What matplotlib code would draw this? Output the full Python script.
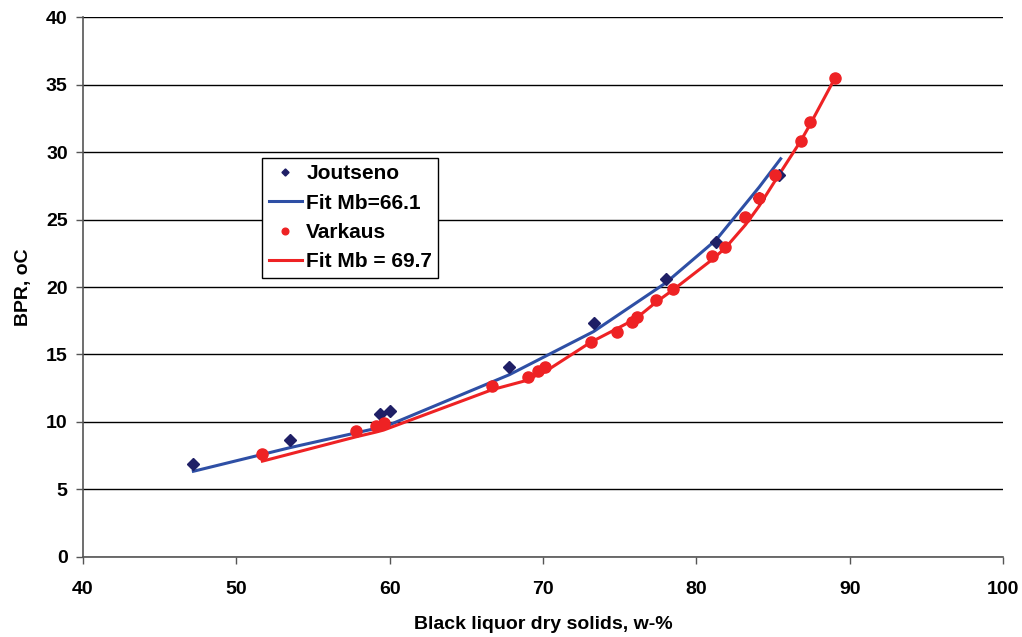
import matplotlib.pyplot as plt

# Joutseno measurements and fit
jout_x = [47.2, 53.5, 59.4, 60.0, 67.8, 73.3, 78.0, 81.3, 84.1, 85.4]
jout_y = [6.9, 8.7, 10.6, 10.8, 14.1, 17.3, 20.6, 23.3, 26.6, 28.3]
jout_fit_x = [47.2, 53.5, 59.4, 60.0, 67.8, 73.3, 78.0, 81.3, 84.1, 85.5]
jout_fit_y = [6.35, 8.1, 9.6, 9.8, 13.5, 16.7, 20.3, 23.5, 27.4, 29.5]

# Varkaus measurements and fit
vark_x = [51.7, 57.8, 59.1, 59.6, 66.7, 69.0, 69.7, 70.1, 73.1, 74.8, 75.8, 76.1,
          77.4, 78.5, 81.0, 81.9, 83.2, 84.1, 85.1, 86.8, 87.4, 89.05]
vark_y = [7.6, 9.3, 9.7, 9.9, 12.7, 13.3, 13.8, 14.1, 15.9, 16.7, 17.4, 17.8,
          19.0, 19.85, 22.3, 23.0, 25.2, 26.6, 28.3, 30.8, 32.2, 35.5]
vark_fit_x = [51.7, 57.8, 59.1, 59.6, 66.7, 69.0, 69.7, 70.1, 73.1, 74.8, 75.8, 76.1,
              77.4, 78.5, 81.0, 81.9, 83.2, 84.1, 85.1, 86.8, 87.4, 89.1]
vark_fit_y = [7.1, 8.9, 9.25, 9.4, 12.4, 13.1, 13.55, 13.7, 15.9, 16.9, 17.5, 17.7,
              18.9, 19.8, 22.0, 22.9, 24.6, 26.0, 27.8, 30.8, 32.0, 35.6]

plt.rcParams['font.family'] = ['Liberation Sans', 'DejaVu Sans']
plt.rcParams['font.weight'] = 'bold'

fig = plt.figure(figsize=(10.22, 6.37), dpi=100)
ax = fig.add_axes([0.0812, 0.1256, 0.9002, 0.8477])

ax.plot(jout_x, jout_y, linestyle='none', marker='D', markersize=6,
        color='#1f1f66', label='Joutseno', zorder=3)
ax.plot(jout_fit_x, jout_fit_y, color='#2e4fa5', linewidth=2.2,
        label='Fit Mb=66.1', zorder=2)
ax.plot(vark_x, vark_y, linestyle='none', marker='o', markersize=8,
        color='#ee2224', label='Varkaus', zorder=3)
ax.plot(vark_fit_x, vark_fit_y, color='#ee2224', linewidth=2.2,
        label='Fit Mb = 69.7', zorder=2)

ax.set_xlim(40, 100)
ax.set_ylim(0, 40)
ax.set_xticks(range(40, 101, 10))
ax.set_yticks(range(0, 41, 5))
ax.yaxis.grid(True, color='black', linewidth=1.0)
ax.set_axisbelow(True)

for side in ['top', 'right']:
    ax.spines[side].set_visible(False)
for side in ['left', 'bottom']:
    ax.spines[side].set_color('#555555')
    ax.spines[side].set_linewidth(1.2)

ax.tick_params(direction='out', length=5, width=1, color='#555555', labelsize=14)
ax.tick_params(axis='x', pad=12)
ax.tick_params(axis='y', pad=6)
for lbl in ax.get_xticklabels() + ax.get_yticklabels():
    lbl.set_fontweight('bold')

ax.set_xlabel('Black liquor dry solids, w-%', fontsize=14, fontweight='bold', labelpad=13)
ax.set_ylabel('BPR, oC', fontsize=14, fontweight='bold', labelpad=10)

leg = ax.legend(loc='upper left', bbox_to_anchor=(0.195, 0.739), fontsize=15,
                frameon=True, fancybox=False, edgecolor='black', framealpha=1,
                handlelength=1.6, handletextpad=0.2, borderpad=0.3,
                labelspacing=0.5, borderaxespad=0, markerscale=0.6)
leg.get_frame().set_linewidth(1.0)
for t in leg.get_texts():
    t.set_fontweight('bold')

fig.savefig('out.png', dpi=100)
